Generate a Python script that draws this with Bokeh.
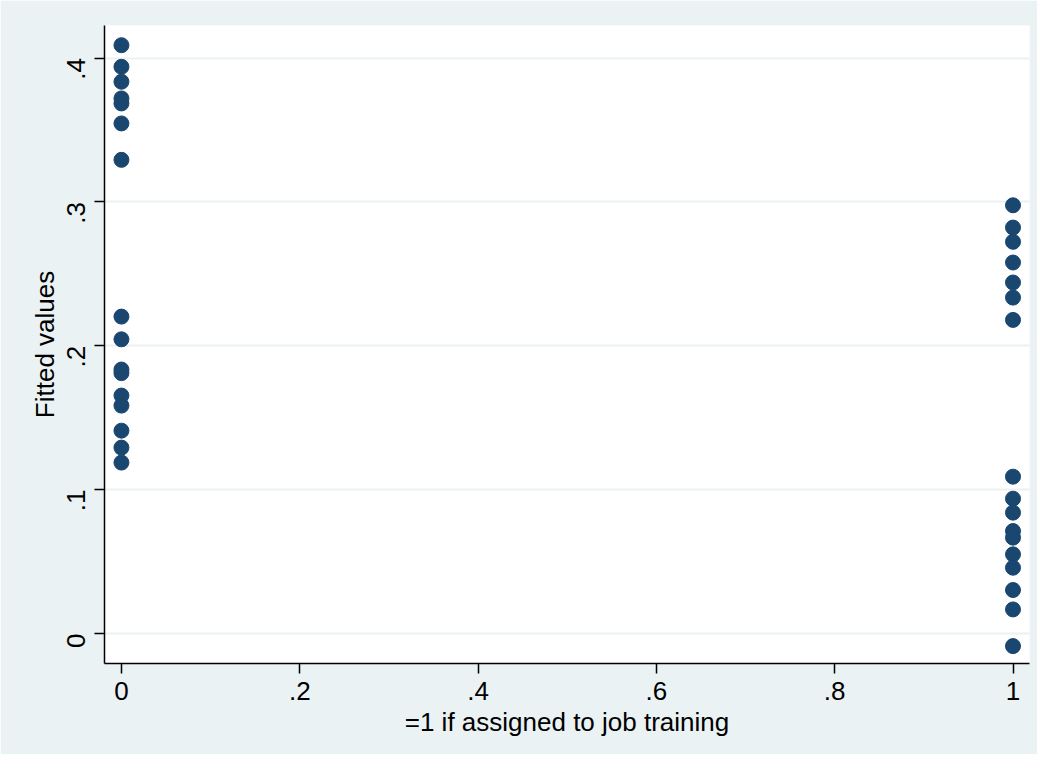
import math
from bokeh.plotting import figure
from bokeh.models import Range1d, FixedTicker, ColumnDataSource
from bokeh.embed import file_html
from bokeh.resources import INLINE

# Data: fitted values by treatment status
control_fitted = [0.409, 0.394, 0.3836, 0.372, 0.3685, 0.3546, 0.3293,
                  0.2203, 0.2045, 0.1835, 0.181, 0.1654, 0.1584, 0.141, 0.1292, 0.1188]
treated_fitted = [0.2977, 0.2822, 0.2723, 0.2579, 0.244, 0.2335, 0.218,
                  0.109, 0.0937, 0.084, 0.0712, 0.0666, 0.055, 0.0457, 0.0302, 0.0167, -0.0088]
x_ticks = [0, 0.2, 0.4, 0.6, 0.8, 1]
x_tick_labels = ["0", ".2", ".4", ".6", ".8", "1"]
y_ticks = [0, 0.1, 0.2, 0.3, 0.4]
y_tick_labels = ["0", ".1", ".2", ".3", ".4"]

xs = [0] * len(control_fitted) + [1] * len(treated_fitted)
ys = control_fitted + treated_fitted
src = ColumnDataSource(dict(x=xs, y=ys))

BG = "#EAF2F3"
NAVY = "#1A476F"
FONT = "Liberation Sans"

p = figure(width=1037, height=754, output_backend="svg", toolbar_location=None,
           x_range=Range1d(-0.019, 1.0185), y_range=Range1d(-0.0209, 0.4227),
           min_border_left=104, min_border_right=8, min_border_top=25, min_border_bottom=91)
p.border_fill_color = BG
p.background_fill_color = "white"
p.outline_line_color = None

p.scatter("x", "y", source=src, size=15, color=NAVY, line_color=NAVY)

p.xaxis.ticker = FixedTicker(ticks=x_ticks)
p.xaxis.major_label_overrides = {t: l for t, l in zip(x_ticks, x_tick_labels)}
p.yaxis.ticker = FixedTicker(ticks=y_ticks)
p.yaxis.major_label_overrides = {t: l for t, l in zip(y_ticks, y_tick_labels)}
p.yaxis.major_label_orientation = math.pi / 2

p.xaxis.axis_label = "=1 if assigned to job training"
p.yaxis.axis_label = "Fitted values"

for ax in (p.xaxis, p.yaxis):
    ax.axis_line_color = "black"
    ax.axis_line_width = 1.5
    ax.major_tick_line_color = "black"
    ax.major_tick_line_width = 1.5
    ax.major_tick_out = 10
    ax.major_tick_in = 0
    ax.minor_tick_line_color = None
    ax.major_label_text_font = FONT
    ax.major_label_text_font_size = "26px"
    ax.major_label_text_color = "black"
    ax.axis_label_text_font = FONT
    ax.axis_label_text_font_size = "26px"
    ax.axis_label_text_font_style = "normal"
    ax.axis_label_text_color = "black"

p.xaxis.major_label_standoff = 8
p.xaxis.axis_label_standoff = 4
p.yaxis.major_label_standoff = 18
p.yaxis.axis_label_standoff = -4

p.xgrid.grid_line_color = None
p.ygrid.grid_line_color = BG
p.ygrid.grid_line_width = 2

open("out.html", "w").write(file_html(p, INLINE))
